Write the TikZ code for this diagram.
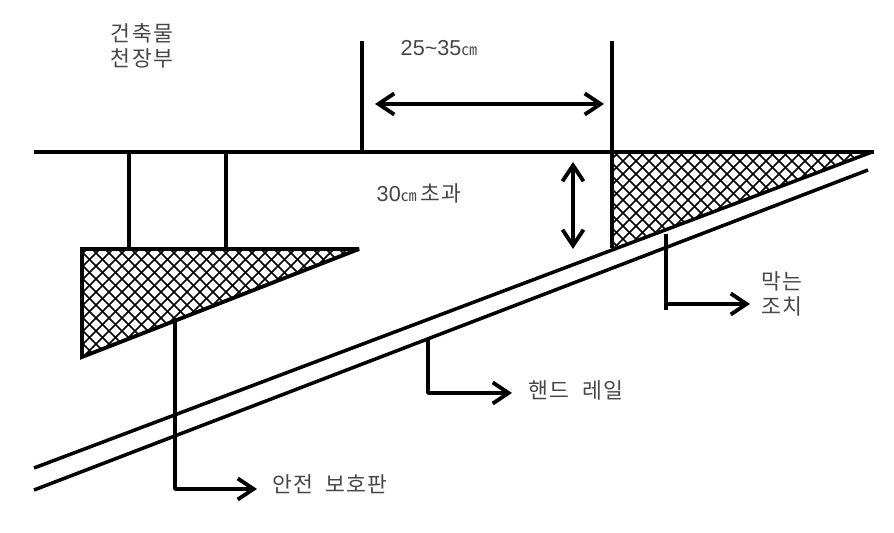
\documentclass[tikz,border=0pt]{standalone}
\usepackage{fontspec}
\setmainfont{Liberation Sans}
\newfontfamily\kor[LetterSpace=6]{Noto Sans CJK KR}
\newfontfamily\korcm{Noto Sans CJK KR}
\usetikzlibrary{arrows.meta}
\tikzset{
  wall/.style={line width=2.2pt},
  thin wall/.style={line width=2pt},
  barb/.tip={Straight Barb[length=9pt,width=12pt,line width=2.2pt]},
  lead/.style={line width=2.1pt, -barb},
  dim/.style={line width=2.1pt, barb-barb},
  hatch/.style={line width=0.9pt},
  label/.style={inner sep=0pt, text=black!72, font=\fontsize{12.3pt}{14.5pt}\selectfont, align=center}
}
\begin{document}
\begin{tikzpicture}
  [x=0.02cm, y=-0.02cm]
  \useasboundingbox (0,0) rectangle (894,533);

  % Pontos do teto e das guardas
  \coordinate (ceilL) at (34,152);
  \coordinate (ceilR) at (874,152);
  \coordinate (guardTop1) at (362,41);
  \coordinate (guardBot1) at (362,152);
  \coordinate (guardTop2) at (612,41);
  \coordinate (guardBot2) at (612,248);
  \coordinate (hang1) at (129,152);
  \coordinate (hang2) at (226,152);
  \coordinate (hang1b) at (129,249);
  \coordinate (hang2b) at (226,249);

  % Triangulos
  \coordinate (plateA) at (82,249);
  \coordinate (plateB) at (359,249);
  \coordinate (plateC) at (82,357);
  \coordinate (stopA) at (612,152);
  \coordinate (stopB) at (872,152);

  % Corrimao
  \coordinate (railL1) at (34,468);
  \coordinate (railL2) at (34,490);
  \coordinate (railR2) at (868,170);

  % Hachura
  \begin{scope}
    \clip (plateA) -- (plateB) -- (plateC) -- cycle;
    \foreach \i in {0,13,...,429} {
      \draw[hatch] (70+\i,240) -- (70+\i-130,370);
      \draw[hatch] (70+\i-130,240) -- (70+\i,370);
    }
  \end{scope}
  \begin{scope}
    \clip (stopA) -- (stopB) -- (guardBot2) -- cycle;
    \foreach \i in {0,13,...,429} {
      \draw[hatch] (600+\i,145) -- (600+\i-110,255);
      \draw[hatch] (600+\i-110,145) -- (600+\i,255);
    }
  \end{scope}

  % Linhas principais
  \draw[wall] (ceilL) -- (ceilR);
  \draw[wall] (guardTop1) -- (guardBot1);
  \draw[wall] (guardTop2) -- (guardBot2);
  \draw[wall] (hang1) -- (hang1b);
  \draw[wall] (hang2) -- (hang2b);
  \draw[wall, line join=miter, miter limit=4] (plateB) -- (plateA) -- (plateC) -- cycle;
  \draw[thin wall] (railL1) -- (stopB);
  \draw[thin wall] (railL2) -- (railR2);

  % Cotas
  \coordinate (widthL) at (375,104);
  \coordinate (widthR) at (604,104);
  \coordinate (gapT) at (573,162);
  \coordinate (gapB) at (573,249);
  \draw[dim] (widthL) -- (widthR);
  \draw[dim] (gapT) -- (gapB);

  % Textos
  \node[label] (ceilText) at (142,46) {\kor 건축물\\\kor 천장부};
  \node[label] (widthText) at (439,48) {25\textasciitilde 35{\korcm\fontsize{9pt}{9pt}\selectfont ㎝}};
  \node[label] (gapText) at (419,193) {30{\korcm\fontsize{9pt}{9pt}\selectfont ㎝}\,{\kor 초과}};
  \node[label] (stopText) at (782,294) {\kor 막는\\\kor 조치};
  \node[label] (railText) at (576,390) {\kor 핸드\ \ 레일};
  \node[label] (plateText) at (330,484) {\kor 안전\ \ 보호판};

  % Linhas de chamada
  \coordinate (stopLead) at (666,234);
  \coordinate (stopEnd) at (666,310);
  \coordinate (stopCorner) at (666,304);
  \coordinate (stopTip) at (750,304);
  \coordinate (railLead) at (428,340);
  \coordinate (railCorner) at (428,393);
  \coordinate (railTip) at (512,393);
  \coordinate (plateLead) at (175,322);
  \coordinate (plateCorner) at (175,489);
  \coordinate (plateTip) at (257,489);
  \draw[wall] (stopLead) -- (stopEnd);
  \draw[lead] (stopCorner) -- (stopTip);
  \draw[lead, line join=round] (railLead) -- (railCorner) -- (railTip);
  \draw[lead, line join=round] (plateLead) -- (plateCorner) -- (plateTip);
\end{tikzpicture}
\end{document}
